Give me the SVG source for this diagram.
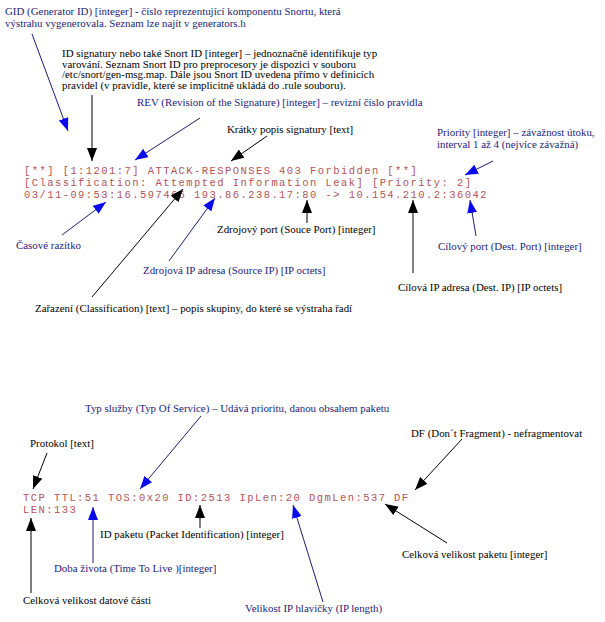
<svg xmlns="http://www.w3.org/2000/svg" width="605" height="622" viewBox="0 0 605 622">
<defs>
<style>
.lbl{font-family:"Liberation Serif","Times New Roman",serif;font-size:10.9px;fill:#000}
.blu{fill:#1c1c78}
.log{font-family:"Liberation Mono","Courier New",monospace;font-size:10.5px;letter-spacing:1.43px;fill:#b25458}
.ck{stroke:#000;stroke-width:1;fill:none;marker-end:url(#hk)}
.cb{stroke:#1c1c6e;stroke-width:1;fill:none;marker-end:url(#hb)}
</style>
<marker id="hk" markerUnits="userSpaceOnUse" markerWidth="14" markerHeight="10" refX="13" refY="5" orient="auto"><path d="M0,0 L13,5 L0,10 z" fill="#000"/></marker>
<marker id="hb" markerUnits="userSpaceOnUse" markerWidth="14" markerHeight="10" refX="13" refY="5" orient="auto"><path d="M0,0 L13,5 L0,10 z" fill="#0a0aee"/></marker>
</defs>
<rect width="605" height="622" fill="#fff"/>

<g id="log1" class="log">
<text x="24" y="174">[**] [1:1201:7] ATTACK-RESPONSES 403 Forbidden [**]</text>
<text x="24" y="186">[Classification: Attempted Information Leak] [Priority: 2]</text>
<text x="24" y="197.5">03/11-09:53:16.597466 193.86.238.17:80 -&gt; 10.154.210.2:36042</text>
</g>
<g id="log2" class="log">
<text x="23" y="501">TCP TTL:51 TOS:0x20 ID:2513 IpLen:20 DgmLen:537 DF</text>
<text x="23" y="513">LEN:133</text>
</g>

<g id="gid" class="lbl blu">
<text x="5" y="15">GID (Generator ID) [integer] - číslo reprezentující komponentu Snortu, která</text>
<text x="5" y="26.5">výstrahu vygenerovala. Seznam lze najít v generators.h</text>
</g>
<g id="sid" class="lbl">
<text x="62" y="56.5">ID signatury nebo také Snort ID [integer] – jednoznačně identifikuje typ</text>
<text x="62" y="67.5">varování. Seznam Snort ID pro preprocesory je dispozici v souboru</text>
<text x="62" y="78">/etc/snort/gen-msg.map. Dále jsou Snort ID uvedena přímo v definicích</text>
<text x="62" y="89">pravidel (v pravidle, které se implicitně ukládá do .rule souboru).</text>
</g>
<g id="rev" class="lbl blu"><text x="137" y="105.5">REV (Revision of the Signature) [integer] – revizní číslo pravidla</text></g>
<g id="msg" class="lbl"><text x="227" y="133">Krátky popis signatury [text]</text></g>
<g id="prio" class="lbl blu">
<text x="437" y="136">Priority [integer] – závažnost útoku,</text>
<text x="437" y="147.5">interval 1 až 4 (nejvíce závažná)</text>
</g>
<g id="ts" class="lbl blu"><text x="16" y="249">Časové razítko</text></g>
<g id="srcport" class="lbl"><text x="217" y="233">Zdrojový port (Souce Port) [integer]</text></g>
<g id="dstport" class="lbl blu"><text x="438" y="250">Cílový port (Dest. Port) [integer]</text></g>
<g id="srcip" class="lbl blu"><text x="143" y="274">Zdrojová IP adresa (Source IP) [IP octets]</text></g>
<g id="dstip" class="lbl"><text x="398" y="291">Cílová IP adresa (Dest. IP) [IP octets]</text></g>
<g id="class" class="lbl"><text x="35" y="312">Zařazení (Classification) [text] – popis skupiny, do které se výstraha řadí</text></g>

<g id="tos" class="lbl blu"><text x="85" y="412">Typ služby (Typ Of Service) – Udává prioritu, danou obsahem paketu</text></g>
<g id="proto" class="lbl"><text x="30" y="447">Protokol [text]</text></g>
<g id="df" class="lbl"><text x="411" y="437">DF (Don´t Fragment) - nefragmentovat</text></g>
<g id="ipid" class="lbl"><text x="100" y="538">ID paketu (Packet Identification) [integer]</text></g>
<g id="dgmlen" class="lbl"><text x="402" y="558">Celková velikost paketu [integer]</text></g>
<g id="ttl" class="lbl blu"><text x="54" y="572">Doba života (Time To Live )[integer]</text></g>
<g id="len" class="lbl"><text x="23" y="604">Celková velikost datové části</text></g>
<g id="iplen" class="lbl blu"><text x="245" y="612">Velikost IP hlavičky (IP length)</text></g>

<g id="connectors">
<line class="cb" x1="32" y1="34" x2="68" y2="131"/>
<line class="ck" x1="92" y1="95" x2="92" y2="161"/>
<line class="cb" x1="200" y1="118" x2="135" y2="160"/>
<line class="ck" x1="267" y1="136" x2="231" y2="161"/>
<line class="cb" x1="493" y1="161" x2="465" y2="175"/>
<line class="cb" x1="62" y1="235" x2="106" y2="202"/>
<line class="ck" x1="92" y1="297" x2="183" y2="189"/>
<line class="cb" x1="169" y1="261" x2="215" y2="198"/>
<line class="ck" x1="307" y1="223" x2="307" y2="200"/>
<line class="ck" x1="413" y1="273" x2="413" y2="200"/>
<line class="cb" x1="476" y1="236" x2="470" y2="200"/>
<line class="cb" x1="201" y1="416" x2="140" y2="489"/>
<line class="ck" x1="47" y1="453" x2="33" y2="489"/>
<line class="ck" x1="462" y1="439" x2="415" y2="490"/>
<line class="ck" x1="200" y1="528" x2="200" y2="505"/>
<line class="cb" x1="93" y1="563" x2="93" y2="507"/>
<line class="ck" x1="31" y1="593" x2="31" y2="518"/>
<line class="cb" x1="323" y1="602" x2="293" y2="505"/>
<line class="ck" x1="447" y1="543" x2="385" y2="504"/>
</g>
</svg>
